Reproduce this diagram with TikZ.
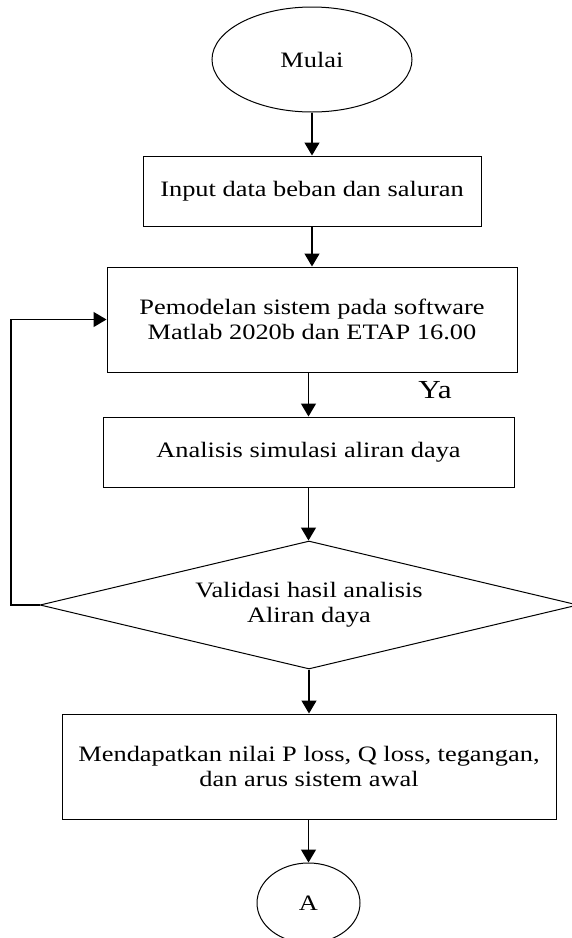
\documentclass[tikz,border=0pt]{standalone}
\usepackage{fontspec}
\setmainfont{Liberation Serif}[FakeStretch=1.2]
\usetikzlibrary{shapes.geometric,arrows.meta}
\begin{document}
\begin{tikzpicture}[x=1pt,y=-1pt,
  every node/.style={font=\fontsize{22}{25}\selectfont, align=center, inner sep=0pt},
  proc/.style={draw, line width=1pt, rectangle},
  term/.style={draw, line width=1pt, ellipse},
  decide/.style={draw, line width=1pt, diamond, shape aspect=4.2},
  arr/.style={-{Triangle[length=13pt,width=15pt]}, line width=1.4pt}]
\useasboundingbox (0,0) rectangle (571,938);

% flowchart blocks
\node[term, minimum width=200pt, minimum height=105pt] (mulai) at (312,59.5) {Mulai};
\node[proc, minimum width=338pt, minimum height=70pt] (input) at (312,191) {Input data beban dan saluran};
\node[proc, minimum width=410pt, minimum height=105pt] (model) at (312,319.5)
  {Pemodelan sistem pada software\\Matlab 2020b dan ETAP 16.00};
\node[font=\fontsize{26}{30}\selectfont] (ya) at (435,390) {Ya};
\node[proc, minimum width=411pt, minimum height=70pt] (analisis) at (308.5,452) {Analisis simulasi aliran daya};
\node[decide, minimum width=538pt, minimum height=128pt] (valid) at (309,605)
  {Validasi hasil analisis\\Aliran daya};
\node[proc, minimum width=494pt, minimum height=105pt] (hasil) at (309,766.5)
  {Mendapatkan nilai P loss, Q loss, tegangan,\\dan arus sistem awal};
\node[term, minimum width=103pt, minimum height=80pt] (a) at (308.5,903) {A};

% connectors
\draw[arr] (mulai) -- (input);
\draw[arr] (input) -- (model);
\draw[arr] (model.south -| analisis.north) -- (analisis.north);
\draw[arr] (analisis.south) -- (analisis.south |- valid.north);
\draw[arr] (valid.south) -- (valid.south |- hasil.north);
\draw[arr] (hasil.south -| a.north) -- (a.north);
\coordinate (loop) at (11,605);
\draw[arr] (valid.west) -- (loop) |- (model.west);
\end{tikzpicture}
\end{document}
